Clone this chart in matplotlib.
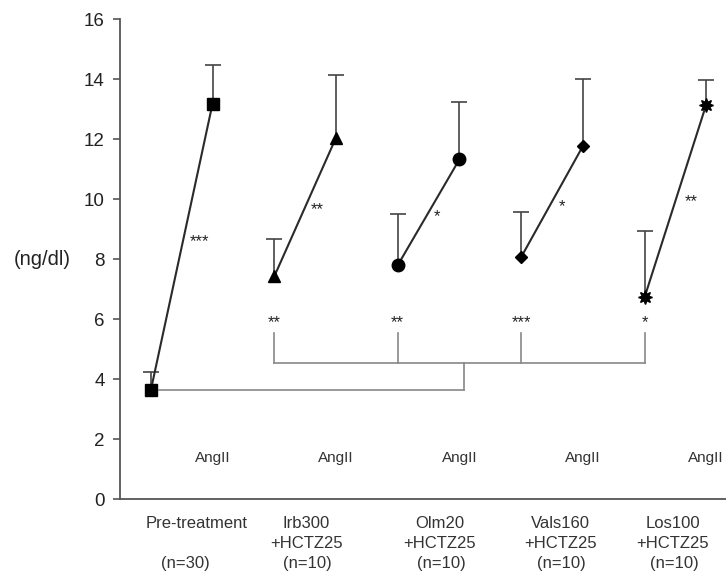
import matplotlib.pyplot as plt
import numpy as np

plt.rcParams['font.family'] = ['Liberation Sans', 'DejaVu Sans']

# group data: baseline value, AngII value and upper error bar tops
groups = ['Pre-treatment', 'Irb300\n+HCTZ25', 'Olm20\n+HCTZ25', 'Vals160\n+HCTZ25', 'Los100\n+HCTZ25']
n_labels = ['(n=30)', '(n=10)', '(n=10)', '(n=10)', '(n=10)']
base_vals = [3.63, 7.42, 7.79, 8.06, 6.72]
base_err = [0.60, 1.24, 1.71, 1.51, 2.21]
ang_vals = [13.18, 12.04, 11.32, 11.76, 13.15]
ang_err = [1.30, 2.11, 1.91, 2.24, 0.83]
markers = ['s', '^', 'o', 'D', (8, 1, 0)]
msizes = [8, 8.5, 9, 6, 10]
change_sig = ['***', '**', '*', '*', '**']
change_sig_pos = [(0.39, 8.57), (1.35, 9.63), (2.32, 9.40), (3.33, 9.73), (4.38, 9.90)]
vs_pre_sig = ['**', '**', '***', '*']
label_x = [0.37, 1.26, 2.34, 3.32, 4.23]

fig = plt.figure(figsize=(7.26, 5.71), dpi=100)
ax = fig.add_axes([120 / 726, 72 / 571, 606 / 726, 480 / 571])

x_base = np.arange(len(groups))
x_ang = x_base + 0.5

for i in range(len(groups)):
    # error bars (upper only), hide the lower caps
    eb = ax.errorbar([x_base[i], x_ang[i]], [base_vals[i], ang_vals[i]],
                     yerr=[[0, 0], [base_err[i], ang_err[i]]], fmt='none',
                     ecolor='#444444', elinewidth=1.2, capsize=6, capthick=1.2, zorder=2)
    eb[1][0].set_visible(False)
    ax.plot([x_base[i], x_ang[i]], [base_vals[i], ang_vals[i]], color='#2a2a2a', lw=1.5,
            marker=markers[i], markersize=msizes[i], markerfacecolor='black',
            markeredgecolor='black', zorder=3)
    ax.text(change_sig_pos[i][0], change_sig_pos[i][1], change_sig[i], ha='center', va='center',
            fontsize=12, color='#222222')
    ax.text(x_ang[i], 1.37, 'AngII', ha='center', va='center', fontsize=11, color='#333333',
            clip_on=False)

# comparison brackets vs pre-treatment
br = '#888888'
for j, s in enumerate(vs_pre_sig):
    xx = x_base[j + 1]
    ax.plot([xx, xx], [4.53, 5.53], color=br, lw=1.2)
    ax.text(xx, 5.87, s, ha='center', va='center', fontsize=12, color='#222222')
ax.plot([x_base[1], x_base[4]], [4.53, 4.53], color=br, lw=1.2)
ax.plot([2.54, 2.54], [3.63, 4.53], color=br, lw=1.2)
ax.plot([0.07, 2.54], [3.63, 3.63], color=br, lw=1.2)

# category labels under the axis
for i in range(len(groups)):
    lines = groups[i].split('\n')
    for k, line in enumerate(lines):
        ax.text(label_x[i], -0.83 - 0.67 * k, line, ha='center', va='center', fontsize=12,
                color='#333333', clip_on=False)
    ax.text(label_x[i] - (0.09 if i == 0 else -0.01), -2.15, n_labels[i], ha='center',
            va='center', fontsize=12, color='#333333', clip_on=False)

ax.set_xlim(-0.25, 4.66)
ax.set_ylim(0, 16)
ax.set_yticks(np.arange(0, 17, 2))
ax.set_xticks([])
ax.spines['top'].set_visible(False)
ax.spines['right'].set_visible(False)
for sp in ['left', 'bottom']:
    ax.spines[sp].set_color('#555555')
    ax.spines[sp].set_linewidth(1.3)
ax.tick_params(axis='y', length=5, width=1.2, color='#555555', labelsize=13.5,
               labelcolor='#222222', pad=6)

fig.text(42 / 726, 1 - 260 / 571, '(ng/dl)', ha='center', va='center', fontsize=14.5,
         color='#222222')

plt.savefig('out.png', dpi=100)
